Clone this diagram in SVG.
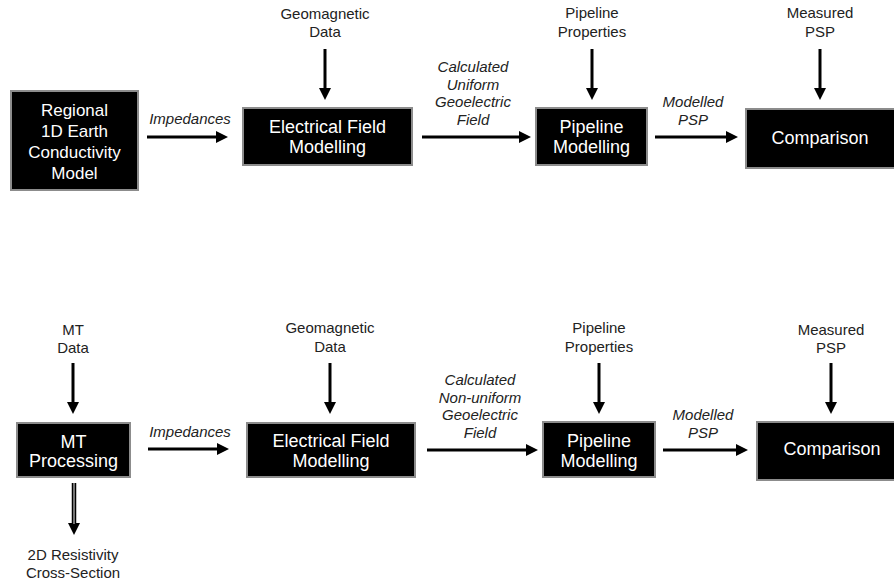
<svg xmlns="http://www.w3.org/2000/svg" width="894" height="580" viewBox="0 0 894 580">
<style>
  .box { fill: #000; stroke: #8c8c8c; stroke-width: 2; }
  .bt { fill: #fff; font-family: "Liberation Sans", Arial, sans-serif; font-size: 18px; text-anchor: middle; }
  .lb { fill: #222; font-family: "Liberation Sans", Arial, sans-serif; font-size: 15px; text-anchor: middle; }
  .it { font-style: italic; }
  .ar { stroke: #000; stroke-width: 3; fill: none; marker-end: url(#ah); }
</style>
<defs>
  <marker id="ah" viewBox="0 0 12 12" refX="1" refY="6" markerWidth="12" markerHeight="12" markerUnits="userSpaceOnUse" orient="auto">
    <path d="M0,0 L12,6 L0,12 z" fill="#000"/>
  </marker>
</defs>
<rect width="894" height="580" fill="#fff"/>

<g id="connectors">
  <line class="ar" x1="147" y1="137" x2="217" y2="137"/>
  <line class="ar" x1="422" y1="137" x2="520" y2="137"/>
  <line class="ar" x1="655" y1="137" x2="727" y2="137"/>
  <line class="ar" x1="325" y1="49" x2="325" y2="89"/>
  <line class="ar" x1="592" y1="49" x2="592" y2="89"/>
  <line class="ar" x1="820" y1="49" x2="820" y2="89"/>

  <line class="ar" x1="73" y1="363" x2="73" y2="403"/>
  <line class="ar" x1="148" y1="449" x2="218" y2="449"/>
  <line class="ar" x1="330" y1="363" x2="330" y2="403"/>
  <line class="ar" x1="427" y1="450" x2="527" y2="450"/>
  <line class="ar" x1="599" y1="363" x2="599" y2="403"/>
  <line class="ar" x1="663" y1="450" x2="737" y2="450"/>
  <line class="ar" x1="831" y1="363" x2="831" y2="403"/>
  <line x1="74" y1="483" x2="74" y2="524" stroke="#000" stroke-width="4.5" marker-end="url(#ah)"/>
  <line x1="74" y1="483" x2="74" y2="524" stroke="#9a9a9a" stroke-width="1.5"/>
</g>

<g id="n-regional">
  <rect class="box" x="11" y="91" width="127" height="99"/>
  <text class="bt" style="font-size:17px" x="74.5" y="116">Regional</text>
  <text class="bt" style="font-size:17px" x="74.5" y="137">1D Earth</text>
  <text class="bt" style="font-size:17px" x="74.5" y="158">Conductivity</text>
  <text class="bt" style="font-size:17px" x="74.5" y="179">Model</text>
</g>
<g id="n-efm1">
  <rect class="box" x="243" y="108" width="169" height="57"/>
  <text class="bt" x="327.5" y="133">Electrical Field</text>
  <text class="bt" x="327.5" y="153">Modelling</text>
</g>
<g id="n-pipe1">
  <rect class="box" x="536" y="108" width="111" height="57"/>
  <text class="bt" x="591.5" y="133">Pipeline</text>
  <text class="bt" x="591.5" y="153">Modelling</text>
</g>
<g id="n-comp1">
  <rect class="box" x="746" y="109" width="160" height="59"/>
  <text class="bt" x="820" y="144">Comparison</text>
</g>

<g id="labels-top">
  <text class="lb" x="325" y="19">Geomagnetic</text>
  <text class="lb" x="325" y="37">Data</text>
  <text class="lb" x="592" y="18">Pipeline</text>
  <text class="lb" x="592" y="37">Properties</text>
  <text class="lb" x="820" y="18">Measured</text>
  <text class="lb" x="820" y="37">PSP</text>
  <text class="lb it" x="190" y="124">Impedances</text>
  <text class="lb it" x="473" y="72">Calculated</text>
  <text class="lb it" x="473" y="89.5">Uniform</text>
  <text class="lb it" x="473" y="107">Geoelectric</text>
  <text class="lb it" x="473" y="124.5">Field</text>
  <text class="lb it" x="693" y="107">Modelled</text>
  <text class="lb it" x="693" y="124.5">PSP</text>
</g>

<g id="n-mt">
  <rect class="box" x="17" y="423" width="113" height="54"/>
  <text class="bt" x="73.5" y="448">MT</text>
  <text class="bt" x="73.5" y="467">Processing</text>
</g>
<g id="n-efm2">
  <rect class="box" x="247" y="423" width="168" height="54"/>
  <text class="bt" x="331" y="447">Electrical Field</text>
  <text class="bt" x="331" y="467">Modelling</text>
</g>
<g id="n-pipe2">
  <rect class="box" x="543" y="422" width="112" height="55"/>
  <text class="bt" x="599" y="447">Pipeline</text>
  <text class="bt" x="599" y="467">Modelling</text>
</g>
<g id="n-comp2">
  <rect class="box" x="757" y="422" width="150" height="58"/>
  <text class="bt" x="832" y="455">Comparison</text>
</g>

<g id="labels-bottom">
  <text class="lb" x="73" y="335">MT</text>
  <text class="lb" x="73" y="353">Data</text>
  <text class="lb" x="330" y="333">Geomagnetic</text>
  <text class="lb" x="330" y="352">Data</text>
  <text class="lb" x="599" y="333">Pipeline</text>
  <text class="lb" x="599" y="352">Properties</text>
  <text class="lb" x="831" y="335">Measured</text>
  <text class="lb" x="831" y="353">PSP</text>
  <text class="lb it" x="190" y="437">Impedances</text>
  <text class="lb it" x="480" y="385">Calculated</text>
  <text class="lb it" x="480" y="402.5">Non-uniform</text>
  <text class="lb it" x="480" y="420">Geoelectric</text>
  <text class="lb it" x="480" y="437.5">Field</text>
  <text class="lb it" x="703" y="420">Modelled</text>
  <text class="lb it" x="703" y="437.5">PSP</text>
  <text class="lb" x="73" y="560">2D Resistivity</text>
  <text class="lb" x="73" y="578">Cross-Section</text>
</g>
</svg>
